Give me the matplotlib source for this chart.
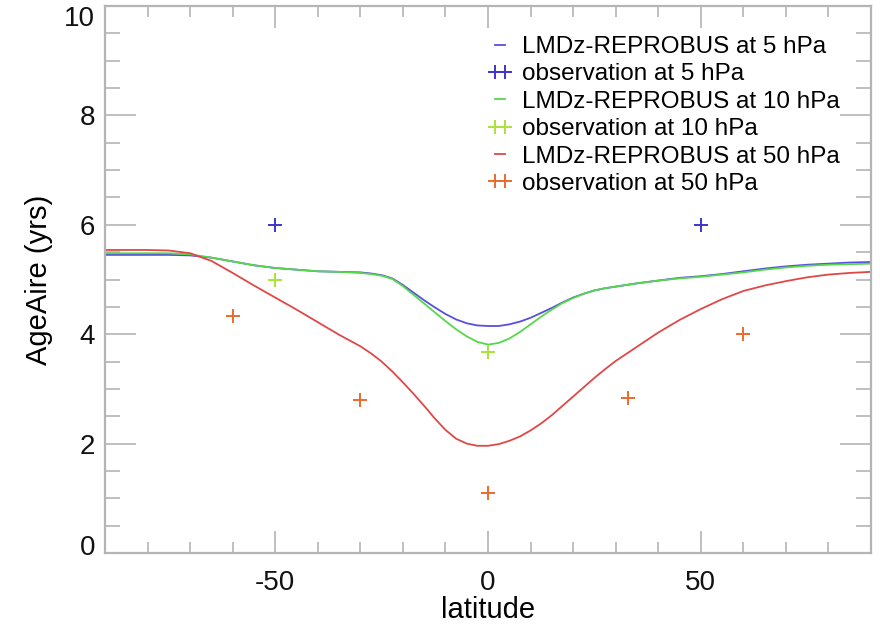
import matplotlib
matplotlib.use("Agg")
import matplotlib.pyplot as plt
import matplotlib.transforms as mtransforms
from matplotlib.ticker import MultipleLocator

plt.rcParams['font.family'] = ['Liberation Sans', 'DejaVu Sans']
plt.rcParams['axes.unicode_minus'] = False

# ---- data -------------------------------------------------------------
lat = [-90, -85, -80, -75, -70, -65, -60, -55, -50, -45, -40, -35, -30,
       -27.5, -25, -22.5, -20, -17.5, -15, -12.5, -10, -7.5, -5, -2.5, 0,
       2.5, 5, 7.5, 10, 12.5, 15, 17.5, 20, 22.5, 25, 27.5, 30,
       35, 40, 45, 50, 55, 60, 65, 70, 75, 80, 85, 90]

model_5hpa = [5.45, 5.45, 5.45, 5.45, 5.44, 5.40, 5.33, 5.26, 5.21, 5.18,
              5.15, 5.14, 5.13,
              5.11, 5.08, 5.02, 4.90, 4.76, 4.62, 4.49, 4.37, 4.27, 4.20,
              4.16, 4.15,
              4.15, 4.18, 4.23, 4.30, 4.39, 4.48, 4.58, 4.67, 4.74, 4.80,
              4.84, 4.87,
              4.93, 4.98, 5.03, 5.06, 5.10, 5.15, 5.20, 5.24, 5.27, 5.29,
              5.31, 5.32]

model_10hpa = [5.48, 5.48, 5.48, 5.48, 5.46, 5.40, 5.33, 5.26, 5.21, 5.18,
               5.15, 5.14, 5.12,
               5.10, 5.07, 5.01, 4.88, 4.72, 4.56, 4.40, 4.24, 4.09, 3.96,
               3.86, 3.81,
               3.84, 3.92, 4.04, 4.18, 4.32, 4.45, 4.57, 4.66, 4.74, 4.80,
               4.84, 4.87,
               4.93, 4.98, 5.02, 5.05, 5.09, 5.13, 5.18, 5.22, 5.25, 5.27,
               5.28, 5.29]

model_50hpa = [5.54, 5.54, 5.54, 5.53, 5.48, 5.34, 5.12, 4.89, 4.67, 4.45,
               4.22, 3.99, 3.78,
               3.65, 3.50, 3.32, 3.12, 2.91, 2.69, 2.46, 2.25, 2.09, 2.00,
               1.96, 1.96,
               1.99, 2.05, 2.13, 2.24, 2.37, 2.52, 2.69, 2.86, 3.03, 3.20,
               3.36, 3.51,
               3.77, 4.03, 4.26, 4.46, 4.64, 4.79, 4.89, 4.97, 5.04, 5.09,
               5.12, 5.14]

obs5_lat = [-50, 50]
obs5_age = [6.0, 6.0]
obs10_lat = [-50, 0]
obs10_age = [5.0, 3.68]
obs50_lat = [-60, -30, 0, 33, 60]
obs50_age = [4.34, 2.80, 1.10, 2.84, 4.00]

xticks = [-50, 0, 50]
yticks = [0, 2, 4, 6, 8, 10]

# ---- figure -----------------------------------------------------------
fig = plt.figure(figsize=(8.8, 6.31), dpi=100)
ax = fig.add_axes([105/880, 1-553/631, (871-105)/880, (553-6)/631])

c_blue_l, c_blue_m = '#5a4ee0', '#3f34cc'
c_green_l, c_green_m = '#55d84a', '#a8e23a'
c_red_l, c_red_m = '#e04848', '#ec6a2e'

ms, mew, lw = 10, 1.4, 1.3
ax.plot(lat, model_5hpa, color=c_blue_l, lw=lw, label='LMDz-REPROBUS at 5 hPa')
ax.plot(obs5_lat, obs5_age, ls='none', marker='+', ms=ms, mew=mew,
        color=c_blue_m, label='observation at 5 hPa')
ax.plot(lat, model_10hpa, color=c_green_l, lw=lw, label='LMDz-REPROBUS at 10 hPa')
ax.plot(obs10_lat, obs10_age, ls='none', marker='+', ms=ms, mew=mew,
        color=c_green_m, label='observation at 10 hPa')
ax.plot(lat, model_50hpa, color=c_red_l, lw=lw, label='LMDz-REPROBUS at 50 hPa')
ax.plot(obs50_lat, obs50_age, ls='none', marker='+', ms=ms, mew=mew,
        color=c_red_m, label='observation at 50 hPa')

ax.set_xlim(-90, 90)
ax.set_ylim(0, 10)
ax.set_xticks(xticks)
ax.set_yticks(yticks)
ax.xaxis.set_minor_locator(MultipleLocator(10))
ax.yaxis.set_minor_locator(MultipleLocator(0.5))

gray = '#b4b4b4'
for s in ax.spines.values():
    s.set_color(gray)
    s.set_linewidth(1.6)
ax.tick_params(which='both', direction='in', top=True, right=True,
               color=gray, width=1.2, labelsize=20, labelcolor='#111111')
ax.tick_params(axis='x', which='major', length=16, pad=12)
ax.tick_params(axis='x', which='minor', length=8)
ax.tick_params(axis='y', which='major', length=22, pad=7)
ax.tick_params(axis='y', which='minor', length=11)

# keep the extreme y labels inside the plot height, as in the original
fig.canvas.draw()
ylabels = ax.get_yticklabels()
up = mtransforms.ScaledTranslation(0, 8/100, fig.dpi_scale_trans)
ylabels[0].set_transform(ylabels[0].get_transform() + up)
ylabels[-1].set_verticalalignment('top')

ax.set_xlabel('latitude', fontsize=21, labelpad=0)
ax.set_ylabel('AgeAire (yrs)', fontsize=21, labelpad=8)

leg = ax.legend(loc='upper left', bbox_to_anchor=(0.50, 0.945), frameon=False,
                fontsize=17.5, numpoints=2, handlelength=1.0,
                handletextpad=0.4, labelspacing=0.22, borderpad=0,
                borderaxespad=0)

fig.savefig('out.png', dpi=100)
